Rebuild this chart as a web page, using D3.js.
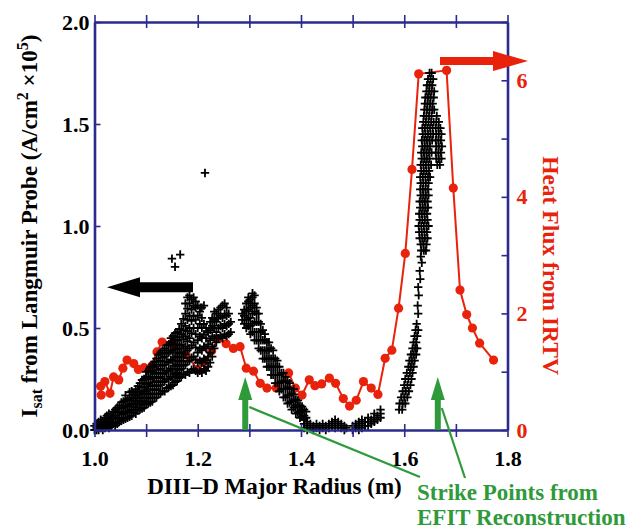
<!DOCTYPE html>
<html>
<head>
<meta charset="utf-8">
<script src="https://cdn.jsdelivr.net/npm/d3@7"></script>
<style>
  html, body { margin: 0; padding: 0; background: #fff; }
  svg { display: block; font-family: "Liberation Serif", "Times New Roman", serif; font-weight: bold; }
</style>
</head>
<body>
<svg id="chart" width="634" height="529"></svg>
<script>
// ---- axes ----
const xTicks = [1.0, 1.1, 1.2, 1.3, 1.4, 1.5, 1.6, 1.7, 1.8];
const xLabelled = [1.0, 1.2, 1.4, 1.6, 1.8];
const leftTicks = [0.0, 0.5, 1.0, 1.5, 2.0];
const rightTicks = [0, 1, 2, 3, 4, 5, 6, 7];
const rightLabelled = [0, 2, 4, 6];

// ---- IRTV heat flux (right axis) ----
const heatR = [1.013,1.012,1.020,1.030,1.037,1.047,1.055,1.063,1.076,1.085,1.096,1.111,1.121,1.131,1.150,1.177,
  1.200,1.212,1.227,1.240,1.255,1.269,1.282,1.294,1.308,1.321,1.334,1.352,1.376,1.389,1.402,1.416,1.427,1.440,
  1.455,1.467,1.482,1.494,1.507,1.521,1.536,1.549,1.563,1.576,1.589,1.602,1.615,1.628,1.682,1.695,1.708,1.721,
  1.732,1.746,1.773];
const heatQ = [0.60,0.75,0.83,0.63,0.91,0.86,1.06,1.20,1.14,1.04,1.07,1.10,1.34,1.51,1.49,1.29,
  1.04,1.17,1.36,1.57,1.48,1.40,1.43,1.06,1.01,0.80,0.72,0.72,0.98,0.72,0.60,0.86,0.76,0.79,
  0.89,0.80,0.54,0.41,0.51,0.83,0.72,0.61,1.23,1.37,2.09,3.03,4.47,6.11,6.17,4.15,2.40,1.98,
  1.75,1.49,1.20];

// ---- Langmuir probe Isat, columns of [R, [Isat...]] ----
const probeRise = [
  [1.000,[0.00,0.02]],[1.004,[0.01,0.03,0.00]],[1.008,[0.02,0.00,0.04]],[1.012,[0.01,0.03,0.05]],
  [1.016,[0.02,0.04,0.00]],[1.020,[0.01,0.03,0.06]],[1.024,[0.02,0.04,0.07]],[1.028,[0.03,0.05,0.01,0.08]],
  [1.032,[0.02,0.04,0.07]],[1.036,[0.03,0.06,0.09]],[1.040,[0.02,0.04,0.07,0.10]],[1.044,[0.03,0.055,0.085,0.11]],
  [1.048,[0.04,0.06,0.09,0.12]],[1.052,[0.045,0.075,0.105,0.135]],[1.056,[0.05,0.08,0.11,0.14]],
  [1.060,[0.055,0.085,0.115,0.145,0.17]],[1.064,[0.06,0.09,0.12,0.15]],[1.068,[0.065,0.095,0.125,0.155,0.185]],
  [1.072,[0.07,0.10,0.13,0.16,0.19]],[1.076,[0.085,0.115,0.145,0.175]],[1.080,[0.08,0.11,0.14,0.17,0.20]],
  [1.084,[0.095,0.125,0.155,0.185,0.215]],[1.088,[0.10,0.13,0.16,0.19,0.23]],[1.092,[0.105,0.14,0.175,0.21,0.245]],
  [1.096,[0.11,0.14,0.18,0.21,0.25]],[1.100,[0.125,0.155,0.19,0.225,0.26,0.285]],[1.104,[0.13,0.16,0.20,0.23,0.26,0.29]],
  [1.108,[0.135,0.175,0.215,0.25,0.285,0.31]],[1.112,[0.14,0.18,0.22,0.26,0.29,0.32]],
  [1.116,[0.155,0.195,0.235,0.275,0.31,0.335]],[1.120,[0.16,0.20,0.24,0.28,0.32,0.35]],
  [1.124,[0.175,0.215,0.255,0.295,0.335,0.37]],[1.128,[0.18,0.22,0.26,0.30,0.34,0.38]],
  [1.132,[0.19,0.235,0.275,0.315,0.355,0.39]],[1.136,[0.19,0.24,0.28,0.32,0.36,0.40]],
  [1.140,[0.205,0.25,0.29,0.335,0.375,0.415]],[1.144,[0.21,0.25,0.29,0.33,0.38,0.42]],
  [1.148,[0.215,0.26,0.30,0.345,0.39,0.43,0.45]],[1.152,[0.22,0.26,0.30,0.34,0.38,0.42,0.46]],
  [1.156,[0.235,0.275,0.315,0.355,0.395,0.44,0.475]],[1.160,[0.24,0.28,0.32,0.36,0.40,0.44,0.48]],
  [1.164,[0.255,0.295,0.335,0.375,0.415,0.455,0.495]],[1.168,[0.26,0.30,0.34,0.38,0.42,0.47,0.52]],
  [1.172,[0.275,0.315,0.355,0.40,0.445,0.49,0.545]],[1.176,[0.27,0.32,0.37,0.41,0.46,0.51,0.57,0.62]],
  [1.180,[0.285,0.335,0.39,0.435,0.485,0.54,0.595,0.65]],[1.184,[0.28,0.34,0.40,0.45,0.50,0.56,0.62,0.66]],
  [1.188,[0.295,0.355,0.415,0.475,0.535,0.59,0.64]],[1.192,[0.30,0.36,0.43,0.50,0.56,0.61,0.65]],
  [1.196,[0.29,0.345,0.405,0.47,0.54,0.60,0.63]]
];
const probeDip = [
  [1.200,[0.28,0.33,0.38,0.44,0.50,0.56,0.61]],[1.204,[0.29,0.34,0.40,0.46,0.52,0.58]],
  [1.208,[0.28,0.33,0.39,0.45,0.50,0.55,0.60]],[1.212,[0.30,0.35,0.41,0.47,0.52,0.61]],
  [1.216,[0.29,0.34,0.40,0.45,0.50]],[1.220,[0.31,0.36,0.42,0.48]],[1.224,[0.33,0.38,0.44,0.49,0.53]],
  [1.228,[0.36,0.41,0.46,0.51,0.55]],[1.232,[0.40,0.45,0.50,0.54,0.58]],[1.236,[0.43,0.48,0.53,0.57]],
  [1.240,[0.45,0.50,0.55,0.59]],[1.244,[0.46,0.51,0.56,0.60]],[1.248,[0.45,0.50,0.55,0.61]],
  [1.252,[0.47,0.52,0.57,0.62]],[1.256,[0.46,0.51,0.56,0.60]],[1.260,[0.47,0.52,0.57]],[1.264,[0.48,0.53]]
];
const probeFall = [
  [1.286,[0.54,0.57]],[1.290,[0.52,0.56,0.59]],[1.294,[0.50,0.54,0.58,0.62]],[1.298,[0.51,0.55,0.59,0.63,0.65]],
  [1.302,[0.47,0.51,0.55,0.60,0.64]],[1.306,[0.48,0.52,0.57,0.61,0.65,0.67]],[1.310,[0.44,0.48,0.53,0.58,0.62,0.66]],
  [1.314,[0.44,0.48,0.53,0.57,0.60]],[1.318,[0.40,0.44,0.48,0.53,0.57]],[1.322,[0.39,0.44,0.48,0.52]],
  [1.326,[0.35,0.39,0.44,0.49]],[1.330,[0.35,0.39,0.44,0.47]],[1.334,[0.31,0.35,0.39,0.43]],
  [1.338,[0.31,0.35,0.39,0.43]],[1.342,[0.27,0.31,0.35,0.40]],[1.346,[0.27,0.31,0.35,0.39]],
  [1.350,[0.23,0.27,0.31,0.35]],[1.354,[0.23,0.27,0.31,0.34]],[1.358,[0.19,0.23,0.27,0.31]],
  [1.362,[0.20,0.24,0.28]],[1.366,[0.16,0.20,0.24,0.28]],[1.370,[0.16,0.20,0.235,0.26]],
  [1.374,[0.13,0.17,0.21,0.24]],[1.378,[0.135,0.17,0.205,0.23]],[1.382,[0.10,0.14,0.18]],
  [1.386,[0.11,0.145,0.175,0.20]],[1.390,[0.08,0.12,0.15]],[1.394,[0.085,0.115,0.145]],
  [1.398,[0.06,0.09,0.12]],[1.402,[0.065,0.095,0.115]],[1.406,[0.05,0.07,0.10]],[1.410,[0.06,0.09]]
];
const probeFloor = [
  [1.406,[0.01,0.03]],[1.412,[0.00,0.02,0.04]],[1.418,[0.01,0.03]],[1.424,[0.00,0.02]],[1.430,[0.01,0.03]],
  [1.436,[0.00,0.02]],[1.442,[0.01,0.03]],[1.448,[0.00,0.02]],[1.454,[0.01,0.03]],[1.460,[0.02,0.04]],
  [1.466,[0.01,0.03,0.05]],[1.472,[0.02,0.04]],[1.478,[0.01,0.03]],[1.484,[0.00,0.02]],[1.488,[0.01]]
];
const probeRamp = [
  [1.500,[0.00,0.02]],[1.506,[0.01,0.03]],[1.512,[0.00,0.02,0.04]],[1.518,[0.01,0.03,0.05]],
  [1.524,[0.02,0.04]],[1.530,[0.02,0.04,0.06]],[1.536,[0.03,0.05]],[1.542,[0.04,0.06,0.08]],
  [1.548,[0.05,0.07]],[1.554,[0.06,0.08,0.10]]
];
// rows of [Isat, [R...]] across the steep outer strike-point peak
const probeClimb = [
  [0.10,[1.590,1.596]],[0.13,[1.591,1.597,1.602]],[0.16,[1.594,1.600,1.606]],[0.19,[1.597,1.603,1.609]],
  [0.22,[1.600,1.606,1.612]],[0.25,[1.602,1.608,1.614]],[0.28,[1.605,1.611,1.616]],[0.31,[1.608,1.613,1.618]],
  [0.34,[1.610,1.615,1.620]],[0.37,[1.613,1.618,1.623]],[0.40,[1.616,1.621,1.625]],[0.43,[1.618,1.623]],
  [0.46,[1.620,1.625]],[0.49,[1.622,1.627]],[0.52,[1.624]],[0.57,[1.627]],[0.61,[1.626]],[0.66,[1.628]],
  [0.70,[1.627]],[0.74,[1.631]],[0.78,[1.630]],[0.82,[1.634]],[0.85,[1.632]]
];
const probePeak = [
  [0.88,[1.633,1.638,1.642]],[0.91,[1.632,1.637,1.643]],[0.94,[1.630,1.635,1.640,1.645]],
  [0.97,[1.629,1.634,1.639,1.644]],[1.00,[1.628,1.633,1.638,1.643,1.647]],[1.03,[1.630,1.635,1.640,1.645]],
  [1.06,[1.629,1.634,1.639,1.644]],[1.09,[1.631,1.636,1.641,1.646]],[1.12,[1.630,1.635,1.640,1.645]],
  [1.15,[1.632,1.637,1.642,1.647]],[1.18,[1.631,1.636,1.641,1.646]],[1.21,[1.632,1.637,1.642,1.647]],
  [1.24,[1.631,1.636,1.641,1.646,1.650]],[1.27,[1.633,1.638,1.643,1.648]],[1.30,[1.632,1.637,1.642,1.647,1.652]],
  [1.33,[1.634,1.639,1.644,1.649]],[1.36,[1.633,1.638,1.643,1.648,1.653]],[1.39,[1.635,1.640,1.645,1.650]],
  [1.42,[1.634,1.639,1.644,1.649,1.654]],[1.45,[1.636,1.641,1.646,1.651,1.656]],[1.48,[1.635,1.640,1.645,1.650,1.655]],
  [1.51,[1.637,1.642,1.647,1.652,1.657]],[1.54,[1.638,1.643,1.648,1.653]],[1.57,[1.639,1.644,1.649,1.654,1.658]],
  [1.60,[1.640,1.645,1.650,1.655]],[1.63,[1.641,1.646,1.651,1.657]],[1.66,[1.643,1.648,1.653,1.658]],
  [1.69,[1.644,1.649,1.654]],[1.72,[1.646,1.651,1.656]],[1.75,[1.649,1.653]]
];
const probeLobe = [
  [1.30,[1.664,1.669]],[1.33,[1.662,1.667,1.672]],[1.36,[1.661,1.666,1.671]],[1.39,[1.662,1.667,1.673]],
  [1.42,[1.661,1.666,1.671]],[1.45,[1.662,1.667,1.672]],[1.48,[1.661,1.666,1.670]],[1.51,[1.662,1.667]],
  [1.54,[1.663]]
];
const probeStray = [[1.150,0.84],[1.166,0.86],[1.156,0.80],[1.214,1.26],[1.160,0.27],[1.205,0.60]];

// ---- EFIT strike points ----
const strikeR = [1.292, 1.665];

// ---- colours ----
const NAVY = "#2b2a8e", RED = "#e8220b", GREEN = "#2f9a3a";

const svg = d3.select("#chart");
const x = d3.scaleLinear().domain([1.0, 1.8]).range([94.5, 507.5]);
const yL = d3.scaleLinear().domain([0, 2]).range([430, 22]);
const yR = d3.scaleLinear().domain([0, 7]).range([430, 22]);

const fmt1 = d3.format(".1f");

// heat flux trace
svg.append("path")
  .datum(heatR.map((r, i) => [r, heatQ[i]]))
  .attr("fill", "none").attr("stroke", RED).attr("stroke-width", 2)
  .attr("stroke-linejoin", "round")
  .attr("d", d3.line().x(d => x(d[0])).y(d => yR(d[1])));
svg.append("g").selectAll("circle")
  .data(heatR.map((r, i) => [r, heatQ[i]]))
  .join("circle")
  .attr("cx", d => x(d[0])).attr("cy", d => yR(d[1])).attr("r", 4.6)
  .attr("fill", RED);

// probe samples as "+" markers
const byColumn = cols => cols.flatMap(([r, vals]) => vals.map(v => [r, v]));
const byRow = rows => rows.flatMap(([v, rs]) => rs.map(r => [r, v]));
const probe = [].concat(
  byColumn(probeRise), byColumn(probeDip), byColumn(probeFall), byColumn(probeFloor), byColumn(probeRamp),
  byRow(probeClimb), byRow(probePeak), byRow(probeLobe), probeStray);
svg.append("g").selectAll("path")
  .data(probe)
  .join("path")
  .attr("transform", d => `translate(${x(d[0])},${yL(d[1])})`)
  .attr("d", "M-4.2,0H4.2M0,-4.2V4.2")
  .attr("stroke", "#000").attr("stroke-width", 1.8).attr("fill", "none");

// axes
function styleAxis(g, textColor) {
  g.attr("font-family", null).attr("font-size", null);
  g.select(".domain").attr("stroke", NAVY).attr("stroke-width", 2.6);
  g.selectAll(".tick line").attr("stroke", NAVY).attr("stroke-width", 1.6);
  g.selectAll(".tick text").attr("fill", textColor).attr("font-size", 22)
    .attr("font-family", '"Liberation Serif", "Times New Roman", serif').attr("font-weight", "bold");
}
const gB = svg.append("g").attr("transform", "translate(0,430)")
  .call(d3.axisBottom(x).tickValues(xTicks).tickSizeInner(7).tickSizeOuter(0).tickPadding(13)
    .tickFormat(d => xLabelled.includes(d) ? fmt1(d) : ""));
gB.selectAll(".tick line").attr("y1", -6);
styleAxis(gB, "#000");

const gT = svg.append("g").attr("transform", "translate(0,22)")
  .call(d3.axisTop(x).tickValues(xTicks).tickSizeInner(7).tickSizeOuter(0).tickFormat(""));
gT.selectAll(".tick line").attr("y1", 6);
styleAxis(gT, "#000");

const gL = svg.append("g").attr("transform", "translate(94.5,0)")
  .call(d3.axisLeft(yL).tickValues(leftTicks).tickSizeInner(-6).tickSizeOuter(0).tickPadding(5).tickFormat(fmt1));
styleAxis(gL, "#000");

const gR = svg.append("g").attr("transform", "translate(507.5,0)")
  .call(d3.axisRight(yR).tickValues(rightTicks).tickSizeInner(-6).tickSizeOuter(0).tickPadding(9)
    .tickFormat(d => rightLabelled.includes(d) ? String(d) : ""));
styleAxis(gR, RED);

// axis pointers: black toward the Isat axis, red toward the heat-flux axis
const bY = yL(0.70);
svg.append("path").attr("fill", "#000")
  .attr("d", `M107,${bY}L140,${bY - 10}V${bY - 5}H193V${bY + 5}H140V${bY + 10}Z`);
const rY = yR(6.33);
svg.append("path").attr("fill", RED)
  .attr("d", `M440,${rY - 4}H493V${rY - 10}L528,${rY}L493,${rY + 10}V${rY + 4}H440Z`);

// strike-point arrows and leader lines
strikeR.forEach(r => {
  const cx = x(r);
  svg.append("path").attr("fill", GREEN)
    .attr("d", `M${cx},377L${cx + 7},400H${cx + 3}V430H${cx - 3}V400H${cx - 7}Z`);
});
svg.append("line").attr("x1", x(strikeR[0]) + 4).attr("y1", 407).attr("x2", 420).attr("y2", 477)
  .attr("stroke", GREEN).attr("stroke-width", 2.2);
svg.append("line").attr("x1", x(strikeR[1]) + 4).attr("y1", 408).attr("x2", 465).attr("y2", 478)
  .attr("stroke", GREEN).attr("stroke-width", 2.2);

// labels
svg.append("text").attr("x", 274.5).attr("y", 494).attr("text-anchor", "middle")
  .attr("font-size", 23).attr("fill", "#000").text("DIII\u2013D Major Radius (m)");

svg.append("text").attr("x", 417).attr("y", 499.5).attr("font-size", 23).attr("fill", GREEN)
  .text("Strike Points from");
svg.append("text").attr("x", 417).attr("y", 524.5).attr("font-size", 23).attr("fill", GREEN)
  .text("EFIT Reconstruction");

const lt = svg.append("text").attr("transform", "translate(36.5,226) rotate(-90)")
  .attr("text-anchor", "middle").attr("font-size", 23).attr("fill", "#000");
lt.append("tspan").text("I");
lt.append("tspan").attr("font-size", 16).attr("dy", 5).text("sat");
lt.append("tspan").attr("dy", -5).text(" from Langmuir Probe (A/cm");
lt.append("tspan").attr("font-size", 16).attr("dy", -9).text("2");
lt.append("tspan").attr("dy", 9).text(" \u00d710");
lt.append("tspan").attr("font-size", 16).attr("dy", -9).text("5");
lt.append("tspan").attr("dy", 9).text(")");

svg.append("text").attr("transform", "translate(543,265.5) rotate(90)")
  .attr("text-anchor", "middle").attr("font-size", 23.5).attr("fill", RED)
  .text("Heat Flux from IRTV");
</script>
</body>
</html>
